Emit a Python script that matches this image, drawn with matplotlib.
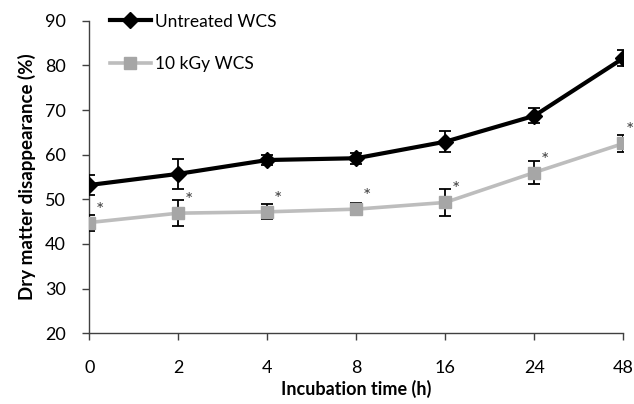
import matplotlib
matplotlib.use("Agg")
import matplotlib.pyplot as plt
from matplotlib.lines import Line2D

# incubation times (categorical axis)
times = ["0", "2", "4", "8", "16", "24", "48"]

untreated = [53.2, 55.7, 58.8, 59.2, 62.9, 68.7, 81.6]
untreated_err = [2.3, 3.3, 1.2, 1.2, 2.4, 1.7, 1.8]

kgy10 = [44.8, 46.9, 47.2, 47.8, 49.3, 56.0, 62.5]
kgy10_err = [1.8, 2.9, 1.7, 1.3, 3.0, 2.6, 1.9]

plt.rcParams['font.family'] = ['Lato', 'DejaVu Sans']

fig = plt.figure(figsize=(6.34, 4.04), dpi=100)
ax = fig.add_axes([0.1408, 0.175, 0.8423, 0.7738])

x = list(range(len(times)))

ax.errorbar(x, untreated, yerr=untreated_err, color='black', lw=3,
            marker='D', ms=8, ecolor='black', elinewidth=1.3, capsize=4,
            capthick=1.3, zorder=3)
ax.errorbar(x, kgy10, yerr=kgy10_err, color='#bdbdbd', lw=2.6,
            marker='s', ms=8, mfc='#a6a6a6', mec='#a6a6a6', ecolor='black',
            elinewidth=1.3, capsize=4, capthick=1.3, zorder=3)

# significance marks (last one sits at the figure edge)
for i in range(len(times)):
    dx = 8 if i < len(times) - 1 else 4.5
    ax.annotate('*', (x[i], kgy10[i]), textcoords='offset points', xytext=(dx, 9),
                ha='center', va='center', fontsize=14, color='#404040',
                annotation_clip=False)

ax.set_xlim(0, 6)
ax.set_ylim(20, 90)
ax.set_xticks(x)
ax.set_xticklabels(times)
ax.set_yticks(range(20, 91, 10))

for s in ['top', 'right']:
    ax.spines[s].set_visible(False)
for s in ['left', 'bottom']:
    ax.spines[s].set_color('#404040')
    ax.spines[s].set_linewidth(1)
ax.tick_params(axis='both', colors='#404040', labelcolor='black', labelsize=13,
               length=5, width=1)
ax.tick_params(axis='x', pad=14)
ax.tick_params(axis='y', pad=12)

ax.set_xlabel('Incubation time (h)', fontsize=13, fontweight='bold', labelpad=3)
ax.set_ylabel('Dry matter disappearance (%)', fontsize=13.5, fontweight='bold', labelpad=6)

handles = [
    Line2D([], [], color='black', lw=3, marker='D', ms=8),
    Line2D([], [], color='#bdbdbd', lw=2.6, marker='s', ms=8, mfc='#a6a6a6', mec='#a6a6a6'),
]
ax.legend(handles, ['Untreated WCS', '10 kGy WCS'], loc='upper left',
          bbox_to_anchor=(0.025, 1.045), frameon=False, fontsize=12.5,
          handlelength=2.4, handletextpad=0.2, labelspacing=1.55, borderaxespad=0)

fig.savefig('out.png', dpi=100)
